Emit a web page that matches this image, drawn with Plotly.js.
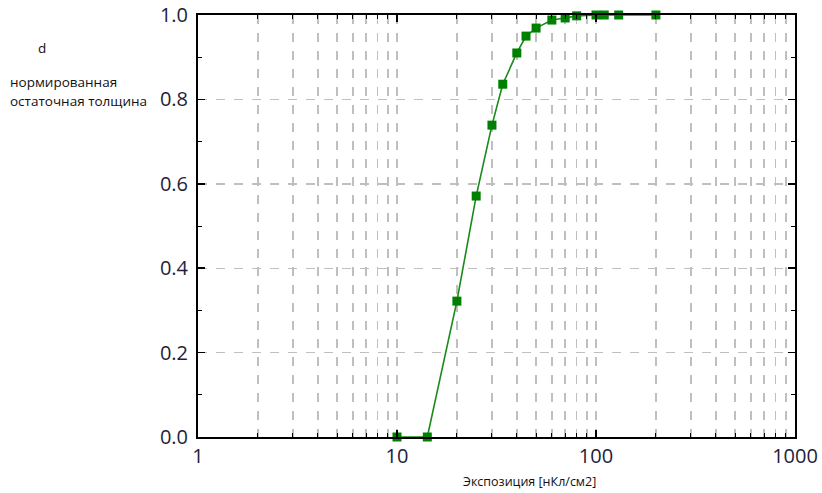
<!DOCTYPE html>
<html>
<head>
<meta charset="utf-8">
<script src="https://cdn.plot.ly/plotly-3.0.1.min.js"></script>
<style>body{margin:0;padding:0;background:#fff}#chart{width:822px;height:493px}</style>
</head>
<body>
<div id="chart"></div>
<script>
const exposure = [10, 14.2, 20, 25, 30, 34, 40, 44.5, 50, 60, 70, 80, 100, 110, 130, 200];
const thickness = [0, 0, 0.322, 0.571, 0.739, 0.836, 0.91, 0.95, 0.969, 0.988, 0.993, 0.998, 1.0, 1.0, 1.0, 1.0];
const xTickVals = [1, 10, 100, 1000];
const xTickText = ['1', '10', '100', '1000'];
const yTickVals = [0, 0.2, 0.4, 0.6, 0.8, 1.0];
const yTickText = ['0.0', '0.2', '0.4', '0.6', '0.8', '1.0'];

const trace = {
  x: exposure, y: thickness, type: 'scatter', mode: 'lines+markers',
  line: {color: '#1a8a1a', width: 1.6},
  marker: {symbol: 'square', size: 9, color: '#008000'},
  cliponaxis: false, hoverinfo: 'x+y'
};
const layout = {
  width: 822, height: 493,
  margin: {l: 198, r: 27, t: 15, b: 56},
  paper_bgcolor: '#fff', plot_bgcolor: '#fff',
  font: {family: 'Open Sans, sans-serif', color: '#222'},
  showlegend: false,
  xaxis: {
    type: 'log', range: [0, 3],
    tickvals: xTickVals, ticktext: xTickText,
    ticks: 'inside', ticklen: 7, tickwidth: 1.5, tickcolor: '#000',
    showline: true, linecolor: '#000', linewidth: 2, mirror: 'allticks',
    showgrid: true, gridcolor: '#bfbfbf', griddash: 'dash', gridwidth: 1.4,
    zeroline: false,
    tickfont: {size: 20, color: '#1e1e3a'},
    minor: {tickvals: [2,3,4,5,6,7,8,9,20,30,40,50,60,70,80,90,200,300,400,500,600,700,800,900],
            ticks: 'inside', ticklen: 4, tickcolor: '#000', tickwidth: 1,
            showgrid: true, gridcolor: '#bfbfbf', griddash: 'dash', gridwidth: 1.4}
  },
  yaxis: {
    range: [0, 1],
    tickvals: yTickVals, ticktext: yTickText,
    ticks: 'inside', ticklen: 7, tickwidth: 1.5, tickcolor: '#000',
    showline: true, linecolor: '#000', linewidth: 2, mirror: 'allticks',
    showgrid: true, gridcolor: '#bfbfbf', griddash: 'dash', gridwidth: 1.4,
    zeroline: false, ticklabelstandoff: 4,
    tickfont: {size: 20, color: '#1e1e3a'},
    minor: {dtick: 0.1, ticks: 'inside', ticklen: 4, tickcolor: '#000', tickwidth: 1, showgrid: false}
  },
  annotations: [
    {text: 'd', xref: 'paper', yref: 'paper', x: (42-198)/597, y: (437-48)/422, xanchor: 'center', yanchor: 'middle', showarrow: false, font: {size: 13.5, color: '#111'}},
    {text: 'нормированная', xref: 'paper', yref: 'paper', x: (8-198)/597, y: (437-82)/422, xanchor: 'left', yanchor: 'middle', showarrow: false, font: {size: 13.5, color: '#111'}},
    {text: 'остаточная толщина', xref: 'paper', yref: 'paper', x: (8-198)/597, y: (437-101)/422, xanchor: 'left', yanchor: 'middle', showarrow: false, font: {size: 13.5, color: '#111'}},
    {text: 'Экспозиция [нКл/см2]', xref: 'paper', yref: 'paper', x: (529-198)/597, y: (437-481)/422, xanchor: 'center', yanchor: 'middle', showarrow: false, font: {size: 12.5, color: '#111'}}
  ]
};
Plotly.newPlot('chart', [trace], layout, {displayModeBar: false, staticPlot: true});
</script>
</body>
</html>
